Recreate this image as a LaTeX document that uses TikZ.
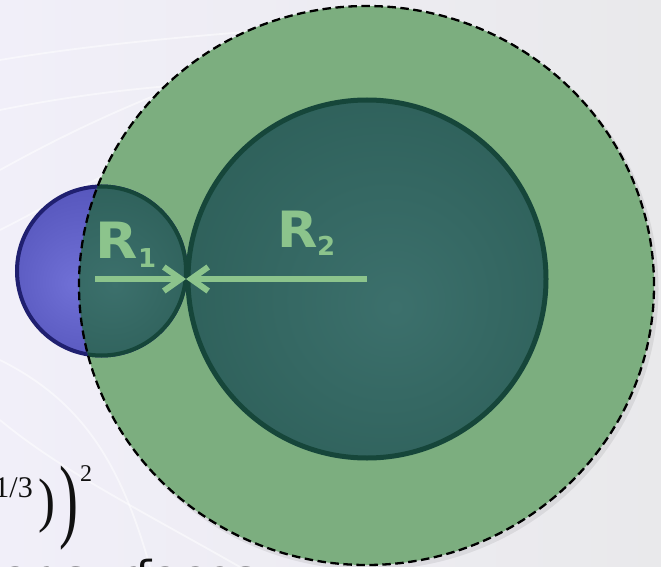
\documentclass[tikz,border=0pt]{standalone}
\usepackage{fontspec}
\usetikzlibrary{arrows.meta}
\newfontfamily\lblfont{DejaVu Sans}
\newfontfamily\fragfont{DejaVu Sans}
\newfontfamily\eqfont{Liberation Serif}
\definecolor{bgA}{RGB}{241,239,249}
\definecolor{bgB}{RGB}{233,233,235}
\definecolor{ringgreen}{RGB}{124,174,127}
\definecolor{tealin}{RGB}{60,112,108}
\definecolor{tealmid}{RGB}{46,96,90}
\definecolor{tealout}{RGB}{34,82,74}
\definecolor{tealline}{RGB}{22,70,58}
\definecolor{bluein}{RGB}{112,112,214}
\definecolor{bluemid}{RGB}{84,84,186}
\definecolor{blueout}{RGB}{62,62,156}
\definecolor{blueline}{RGB}{32,32,112}
\definecolor{lightg}{RGB}{140,196,140}
\definecolor{inkc}{RGB}{17,17,17}
\pgfdeclareradialshading{tealball}{\pgfpoint{4bp}{-4bp}}{color(0bp)=(tealin); color(30bp)=(tealmid); color(50bp)=(tealout)}
\pgfdeclareradialshading{blueball}{\pgfpoint{-8bp}{-4bp}}{color(0bp)=(bluein); color(30bp)=(bluemid); color(50bp)=(blueout)}
\begin{document}
\begin{tikzpicture}[x=1pt,y=-1pt,
  streak/.style={white, opacity=0.5, line width=1.8pt},
  ringline/.style={draw=black, line width=2.3pt, dash pattern=on 8.5pt off 4.5pt},
  radarrow/.style={draw=lightg, line width=6pt, -{Straight Barb[length=17pt,width=24pt]}},
  lbl/.style={inner sep=0pt, text=lightg, font=\lblfont\bfseries\fontsize{50}{50}\selectfont},
  eqn/.style={inner sep=0pt, text=inkc, font=\eqfont},
  frag/.style={inner sep=0pt, text=inkc, font=\fragfont\fontsize{40}{40}\selectfont}]
\useasboundingbox (0,0) rectangle (661,567);
\clip (0,0) rectangle (661,567);
% background
\shade[left color=bgA, right color=bgB] (0,0) rectangle (661,567);
\draw[streak] (0,170) .. controls (90,120) and (200,70) .. (330,40);
\draw[streak] (0,230) .. controls (60,200) and (140,150) .. (260,110);
\draw[streak] (0,60) .. controls (120,40) and (260,30) .. (420,20);
\draw[streak] (0,110) .. controls (100,90) and (200,80) .. (320,80);
\draw[streak] (0,420) .. controls (60,470) and (140,510) .. (240,567);
\draw[streak] (0,360) .. controls (80,400) and (120,460) .. (150,567);
% coordinates
\coordinate (cbig) at (367,279);
\coordinate (csmall) at (101.5,271);
\coordinate (cring) at (366.5,285.5);
\coordinate (touch) at (186,279);
\coordinate (r1start) at (95,279);
% shadow and green ring
\fill[black, opacity=0.07] (369.5,289) ellipse [x radius=289pt, y radius=281pt];
\fill[ringgreen] (cring) ellipse [x radius=287.5pt, y radius=279.5pt];
% small blue sphere
\shade[shading=blueball] (csmall) circle [radius=84.5pt];
\draw[blueline, line width=4pt] (csmall) circle [radius=84.5pt];
% part of small sphere inside ring
\begin{scope}
  \clip (cring) ellipse [x radius=287.5pt, y radius=279.5pt];
  \shade[shading=tealball] (csmall) circle [radius=84.5pt];
  \draw[tealline, line width=4pt] (csmall) circle [radius=84.5pt];
\end{scope}
% big teal sphere
\shade[shading=tealball] (cbig) circle [radius=179pt];
\draw[tealline, line width=5pt] (cbig) circle [radius=179pt];
% dashed outline
\draw[ringline] (cring) ellipse [x radius=287.5pt, y radius=279.5pt];
% radii
\draw[radarrow] (r1start) -- (touch);
\draw[radarrow] (cbig) -- (touch);
\node[lbl, anchor=base west] (labR1) at (95.5,258) {\scalebox{1.1}[1]{R}\raisebox{-9pt}{\fontsize{26}{26}\selectfont 1}};
\node[lbl, anchor=base west] (labR2) at (277.5,247) {\scalebox{1.05}[1]{R}\kern-1pt\raisebox{-8pt}{\fontsize{26}{26}\selectfont 2}};
% equation fragment
\node[eqn, anchor=base east] (expo) at (33,497) {\fontsize{30}{30}\selectfont 1/3};
\node[eqn] (parA) at (46.5,506.5) {\scalebox{0.85}[1]{\fontsize{60}{60}\selectfont )}};
\node[eqn] (parB) at (68.5,508.5) {\scalebox{0.95}[1.55]{\fontsize{60}{60}\selectfont )}};
\node[eqn, anchor=base west] (sq) at (80,481) {\fontsize{24}{24}\selectfont 2};
% text fragment at bottom
\node[frag, anchor=base west] (fragtext) at (2,589) {\scalebox{1.15}[1]{ar surfaces}};
\end{tikzpicture}
\end{document}
